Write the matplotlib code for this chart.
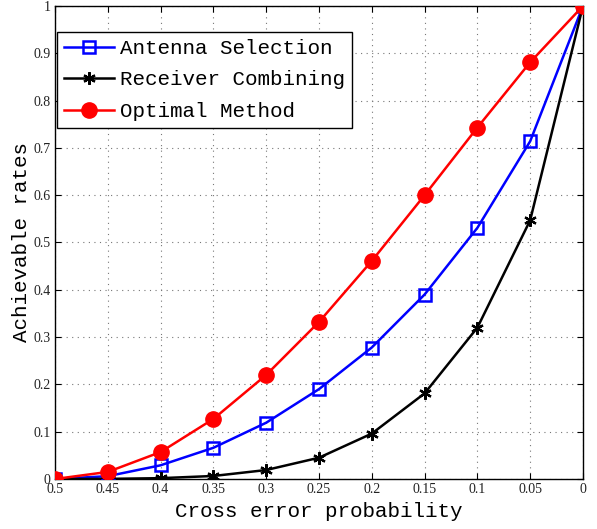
import matplotlib
matplotlib.use("Agg")
import matplotlib.pyplot as plt

x = [0.5, 0.45, 0.4, 0.35, 0.3, 0.25, 0.2, 0.15, 0.1, 0.05, 0.0]
antenna = [0.0, 0.006, 0.029, 0.066, 0.119, 0.190, 0.278, 0.390, 0.531, 0.714, 1.0]
receiver = [0.0, 0.0003, 0.0018, 0.0064, 0.019, 0.045, 0.096, 0.181, 0.320, 0.547, 1.0]
optimal = [0.0, 0.015, 0.057, 0.127, 0.220, 0.332, 0.461, 0.600, 0.743, 0.881, 1.0]
xticks = [0.5, 0.45, 0.4, 0.35, 0.3, 0.25, 0.2, 0.15, 0.1, 0.05, 0]
xticklabels = ["0.5", "0.45", "0.4", "0.35", "0.3", "0.25", "0.2", "0.15", "0.1", "0.05", "0"]
yticks = [0, 0.1, 0.2, 0.3, 0.4, 0.5, 0.6, 0.7, 0.8, 0.9, 1]
yticklabels = ["0", "0.1", "0.2", "0.3", "0.4", "0.5", "0.6", "0.7", "0.8", "0.9", "1"]

fig = plt.figure(figsize=(5.97, 5.29), dpi=100)
ax = fig.add_axes([0.0921, 0.0945, 0.8844, 0.8942])

ax.plot(x, antenna, color="#0000ff", lw=1.8, marker="s", ms=8, mfc="none",
        mec="#0000ff", mew=1.8, label="Antenna Selection", zorder=3)
ax.plot(x, receiver, color="black", lw=1.8, marker=(6, 2, 0), ms=9,
        mec="black", mew=1.6, label="Receiver Combining", zorder=3)
ax.plot(x, optimal, color="#ff0000", lw=1.8, marker="o", ms=11, mfc="#ff0000",
        mec="#ff0000", label="Optimal Method", zorder=3)

ax.set_xlim(0.5, 0)
ax.set_ylim(0, 1)
ax.set_xticks(xticks)
ax.set_xticklabels(xticklabels, family="Liberation Serif", fontsize=10, color="#222222")
ax.set_yticks(yticks)
ax.set_yticklabels(yticklabels, family="Liberation Serif", fontsize=10, color="#222222")
ax.tick_params(direction="in", top=True, right=True, length=4, width=0.8, pad=3)
ax.grid(True, linestyle=(0, (1, 4)), color="#777777", lw=0.8)
for s in ax.spines.values():
    s.set_linewidth(1.0)

ax.set_xlabel("Cross error probability", family="Liberation Mono", fontsize=15, labelpad=4)
ax.set_ylabel("Achievable rates", family="Liberation Mono", fontsize=15, labelpad=2)

leg = ax.legend(loc="upper left", bbox_to_anchor=(0.003, 0.946), prop={"family": "Liberation Mono", "size": 15},
                frameon=True, fancybox=False, edgecolor="black", framealpha=1,
                borderpad=0.35, labelspacing=0.6, handlelength=2.4, handletextpad=0.3,
                borderaxespad=0.0)
leg.get_frame().set_linewidth(1.0)

fig.savefig("out.png", dpi=100)
